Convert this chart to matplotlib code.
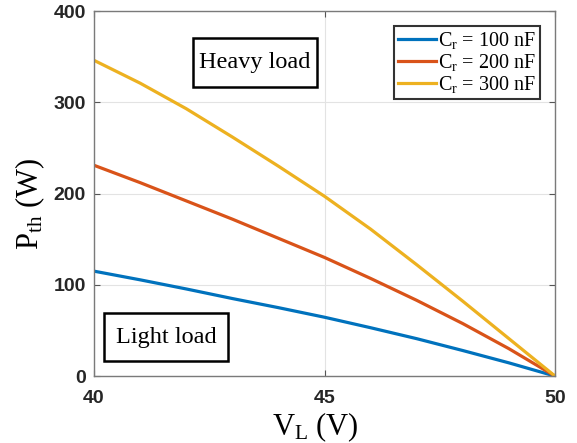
import matplotlib
matplotlib.use("Agg")
import matplotlib.pyplot as plt
from matplotlib.patches import Rectangle

plt.rcParams["mathtext.fontset"] = "custom"
plt.rcParams["mathtext.rm"] = "Liberation Serif"
plt.rcParams["mathtext.it"] = "Liberation Serif:italic"

# Threshold power versus load voltage for three resonant capacitances
v_load = [40, 41, 42, 43, 44, 45, 46, 47, 48, 49, 50]
p_100nF = [115, 105.5, 95.5, 85, 75, 64.5, 53, 41, 28, 14.5, 0]
p_200nF = [231, 212, 192, 172, 151, 130, 107, 83, 57.5, 30, 0]
p_300nF = [346, 321, 293, 262, 230, 197, 161, 122, 82, 41, 0]
series_labels = ["C$_\\mathrm{r}$ = 100 nF", "C$_\\mathrm{r}$ = 200 nF", "C$_\\mathrm{r}$ = 300 nF"]
x_ticks = [40, 45, 50]
y_ticks = [0, 100, 200, 300, 400]

colors = ["#0072BD", "#D95319", "#EDB120"]

fig = plt.figure(figsize=(5.77, 4.43), dpi=100)
ax = fig.add_axes([0.163, 0.151, 0.799, 0.824])

for vals, lab, c in zip([p_100nF, p_200nF, p_300nF], series_labels, colors):
    ax.plot(v_load, vals, color=c, lw=2.3, label=lab, solid_joinstyle="round")

ax.set_xlim(40, 50)
ax.set_ylim(0, 400)
ax.set_xticks(x_ticks)
ax.set_yticks(y_ticks)
ax.grid(True, color="#e3e3e3", lw=0.8)
ax.set_axisbelow(True)

for s in ax.spines.values():
    s.set_color("#7a7a7a")
    s.set_linewidth(1.0)
ax.tick_params(direction="in", length=4, width=0.8, color="#555555",
               top=True, right=True, labelsize=14, pad=6)
for lbl in ax.get_xticklabels() + ax.get_yticklabels():
    lbl.set_fontfamily("Liberation Sans")
    lbl.set_fontweight("bold")
    lbl.set_color("#262626")
ax.tick_params(axis="x", pad=10)

ax.set_xlabel("V$_\\mathrm{L}$ (V)", fontsize=22, fontfamily="Liberation Serif", labelpad=-2)
ax.xaxis.set_label_coords(0.479, -0.095)
ax.set_ylabel("P$_\\mathrm{th}$ (W)", fontsize=22, fontfamily="Liberation Serif")
ax.yaxis.set_label_coords(-0.101, 0.471)

leg = ax.legend(loc="upper right", bbox_to_anchor=(0.9675, 0.958),
                prop={"family": "Liberation Serif", "size": 14.5},
                frameon=True, fancybox=False, edgecolor="black",
                handlelength=1.9, handletextpad=0.1, borderpad=0.2,
                labelspacing=0.05, borderaxespad=0.0)
leg.get_frame().set_linewidth(1.5)

# Region annotations with framed boxes
regions = [("Heavy load", 42.15, 316.7, 2.69, 53.7),
           ("Light load", 40.22, 16.4, 2.69, 52.6)]
for text, x0, y0, w, h in regions:
    ax.add_patch(Rectangle((x0, y0), w, h, facecolor="white", edgecolor="black",
                           lw=1.8, zorder=4))
    ax.text(x0 + w / 2, y0 + h / 2, text, fontsize=17.5, fontfamily="Liberation Serif",
            ha="center", va="center", zorder=5)

fig.savefig("out.png", dpi=100)
